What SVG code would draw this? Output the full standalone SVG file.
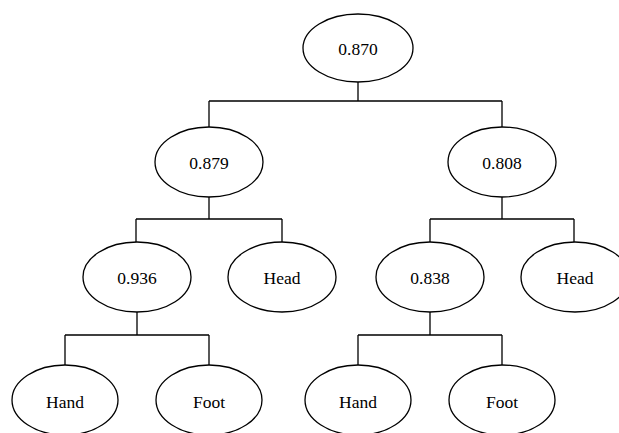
<svg xmlns="http://www.w3.org/2000/svg" width="619" height="433" viewBox="0 0 619 433">
<style>
ellipse{fill:#fff;stroke:#000;stroke-width:1.3}
.c path{fill:none;stroke:#000;stroke-width:1.3}
text{font-family:"Liberation Serif","Times New Roman",serif;font-size:17.5px;text-anchor:middle;fill:#000}
</style>
<rect width="619" height="433" fill="#fff"/>
<g class="c">
<path d="M358,82V101M209,101H502M209,101V127M502,101V127"/>
<path d="M209,197V219M136,219H282M136,219V242M282,219V242"/>
<path d="M502,197V219M430,219H574M430,219V242M574,219V242"/>
<path d="M137,312V335M65,335H209M65,335V365M209,335V365"/>
<path d="M430,312V335M358,335H502M358,335V365M502,335V365"/>
</g>
<g id="n0870"><ellipse cx="358" cy="48" rx="55" ry="34"/><text x="358" y="54.5">0.870</text></g>
<g id="n0879"><ellipse cx="209" cy="162" rx="54" ry="35"/><text x="209" y="168.5">0.879</text></g>
<g id="n0808"><ellipse cx="502" cy="162" rx="54" ry="35"/><text x="502" y="168.5">0.808</text></g>
<g id="n0936"><ellipse cx="137" cy="277" rx="54" ry="35"/><text x="137" y="283.5">0.936</text></g>
<g id="head1"><ellipse cx="282" cy="277" rx="54" ry="35"/><text x="282" y="283.5">Head</text></g>
<g id="n0838"><ellipse cx="430" cy="277" rx="54" ry="35"/><text x="430" y="283.5">0.838</text></g>
<g id="head2"><ellipse cx="575" cy="277" rx="54" ry="35"/><text x="575" y="283.5">Head</text></g>
<g id="hand1"><ellipse cx="65" cy="400" rx="53" ry="35"/><text x="65" y="408">Hand</text></g>
<g id="foot1"><ellipse cx="209" cy="400" rx="53" ry="35"/><text x="209" y="408">Foot</text></g>
<g id="hand2"><ellipse cx="358" cy="400" rx="53" ry="35"/><text x="358" y="408">Hand</text></g>
<g id="foot2"><ellipse cx="502" cy="400" rx="53" ry="35"/><text x="502" y="408">Foot</text></g>
</svg>
